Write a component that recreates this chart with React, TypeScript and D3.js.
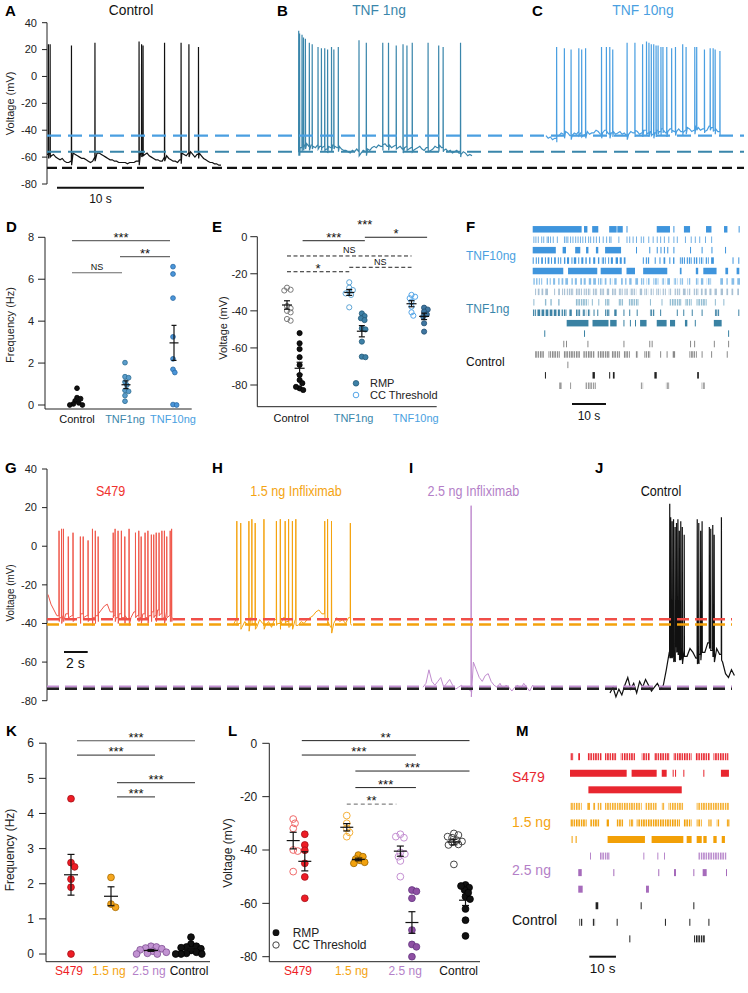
import React from "react";
import * as d3 from "d3";

const SANS = "'Liberation Sans', Arial, Helvetica, sans-serif";
const NARROW = "'Liberation Sans Narrow', 'Arial Narrow', 'Liberation Sans', Arial, sans-serif";

const C_BLACK = "#111111";
const C_TEAL = "#3a86ab";
const C_BLUE = "#4a9fe1";
const C_RED = "#ee2a2f";
const C_ORANGE = "#f4a412";
const C_PURPLE = "#b47fc8";

// ---------------- Panels A-C : traces (time s, voltage mV) ----------------
const A_TICKS = [40, 20, 0, -20, -40, -60, -80];
const A_CTRL_BASE = [-58, -57, -59, -58, -60, -61, -62, -61, -63, -64, -64, -63, -57, -58, -59, -60, -61, -61, -62, -63, -64, -63, -60, -57, -57, -58, -59, -60, -61, -62, -62, -63, -63, -64, -64, -64, -64, -65, -64, -64,
  -64, -63, -63, -57, -56, -58, -57, -59, -60, -61, -62, -62, -63, -63, -60, -59, -61, -62, -63, -63, -64, -62, -57, -58, -59, -57, -56, -58, -60, -58, -57, -59, -61, -62, -63, -64, -64, -65, -65, -66, -66];
const A_CTRL_SPIKES = [0.15, 0.35, 2.8, 5.5, 10.57, 10.86, 11.03, 13.5, 15.4, 16.3, 17.4];
const A_CTRL_PEAKS = [24, 24, 23, 25, 26, 24, 23, 25, 25, 24, 22];
const B_BASE = [-56, -53, -52, -51, -50, -52, -51, -52, -53, -51, -52, -53, -52, -54, -52, -53, -51, -52, -53, -52,
  -54, -55, -55, -56, -57, -55, -56, -54, -56, -57, -55, -56, -54, -55, -53, -52, -53, -51, -52, -51,
  -50, -52, -51, -53, -52, -51, -53, -52, -54, -53, -52, -54, -53, -55, -54, -53, -52, -54, -55, -53,
  -56, -55, -54, -52, -53, -51, -53, -55, -54, -56, -55, -57, -56, -55, -57, -58, -56, -57, -59, -58, -59];
const B_SPIKES = [0.07, 0.17, 0.45, 0.62, 0.84, 1.29, 1.62, 2.29, 2.68, 3.06, 3.39, 3.84, 4.11, 4.62, 7.0, 7.84, 9.73, 10.39, 11.28, 12.06, 12.51, 13.12, 14.94, 16.16, 16.67, 18.67];
const B_PEAKS = [34, 32, 31, 29, 28, 25, 24, 22, 21, 21, 20, 22, 20, 22, 27, 25, 25, 25, 23, 24, 23, 25, 25, 23, 22, 25];
const C_BASE = [-44, -46, -45, -47, -46, -44, -44, -42, -43, -41, -42, -44, -44, -42, -43, -41, -42, -44, -43, -41, -43, -42, -42, -40, -41, -43, -42, -40, -41, -43, -42, -41, -43, -42, -41, -43, -42, -44, -43, -41,
  -42, -40, -41, -43, -42, -40, -40, -42, -41, -43, -42, -40, -41, -39, -40, -42, -41, -39, -40, -41, -41, -39, -41, -42, -40, -38, -39, -41, -40, -37, -38, -40, -39, -41, -40, -37, -38, -40, -39, -41, -40];
const C_SPIKES = [1.21, 2.1, 2.87, 3.76, 4.09, 4.54, 6.37, 6.93, 7.32, 7.66, 9.31, 10.21, 11.09, 11.54, 11.82, 12.09, 12.37, 12.64, 12.87, 13.2, 13.43, 13.87, 14.43, 14.87, 15.7, 16.09, 17.09, 17.31, 18.2, 18.86, 19.2, 19.43, 19.98];
const C_PEAKS = [22, 21, 20, 21, 20, 21, 22, 22, 22, 20, 25, 25, 24, 26, 25, 24, 24, 23, 23, 22, 22, 22, 21, 22, 24, 22, 22, 22, 20, 21, 21, 20, 19];
const A_DASH = [-44, -56, -68];

// ---------------- Panel D ----------------
const D_CATS = ["Control", "TNF1ng", "TNF10ng"];
const D_TICKS = [0, 2, 4, 6, 8];
const D_CTRL = [0.8, 0.35, 0.3, 0.2, 0.1, 0.05, 0.0, 0.0];
const D_TNF1 = [2.02, 1.35, 1.3, 1.1, 0.95, 0.7, 0.65, 0.45, 0.18];
const D_TNF10 = [6.6, 6.25, 5.1, 3.25, 2.2, 1.7, 1.55, 0.02, 0.0];
const D_SIG = [
  { a: "Control", b: "TNF10ng", label: "***", level: 7.84 },
  { a: "TNF1ng", b: "TNF10ng", label: "**", level: 7.08 },
  { a: "Control", b: "TNF1ng", label: "NS", level: 6.31 },
];

// ---------------- Panel E ----------------
const E_TICKS = [0, -20, -40, -60, -80];
const E_THR_CTRL = [-27.5, -28.6, -29, -37.4, -38.6, -40, -40.8, -44.4, -45.3];
const E_RMP_CTRL = [-52, -57.5, -60.6, -65, -69.2, -74.6, -77.3, -79, -81.8, -82.7, -81];
const E_THR_TNF1 = [-24.6, -27.5, -28.8, -29.6, -30.6, -31.4, -38.1];
const E_RMP_TNF1 = [-41.4, -42.8, -44, -45, -49.4, -50, -56.6, -64.7, -65];
const E_THR_TNF10 = [-31.4, -32.4, -33.2, -35, -37.7, -40.8, -42.6];
const E_RMP_TNF10 = [-38.3, -39.3, -40.4, -41.9, -43.1, -46.7, -51.2];
const E_SIG = [
  { a: "Control", b: "TNF10ng", s: "rmp", label: "***", level: 4.5, line: false, dashed: false },
  { a: "Control", b: "TNF1ng", s: "rmp", label: "***", level: -2.16, line: true, dashed: false },
  { a: "TNF1ng", b: "TNF10ng", s: "rmp", label: "*", level: -0.3, line: true, dashed: false },
  { a: "Control", b: "TNF10ng", s: "thr", label: "NS", level: -10.4, line: true, dashed: true },
  { a: "TNF1ng", b: "TNF10ng", s: "thr", label: "NS", level: -16.5, line: true, dashed: true },
  { a: "Control", b: "TNF1ng", s: "thr", label: "*", level: -18.9, line: true, dashed: true },
];

// ---------------- Panel F : raster (seconds) ----------------
type Ev = number | [number, number];
const F_ROWS: Ev[][] = [
  [[0, 14.4], [15.1, 16.1], [17.5, 19.3], [22.5, 24.7], [24.9, 26.5], 27.6, [36.5, 40.4], 41.4, [44.5, 46.3], [51, 52.6], [56.3, 57.3], 60.6],
  [0.2, 0.8, 1.5, 2.5, 3.1, 4.1, 4.5, 5.1, 5.9, 7.1, 9.2, 9.7, 10.2, 11, 11.7, 12.5, 13.2, 13.9, 14.6, 15.4, 16.3, 16.9, 17.8, 18.6, 19.5, 20.6, 21.6, 22.5, 22.9, 25.2, 27.6, 28.4, 29.4, 30.4, 31.8, 32.5, 34, 35.3, 36.5, 37.5, 38.6, 39.9, 41.4, 42.4, 44.8, 46.5, 47.7, 49, 50.7, 52.5],
  [[0, 6.8], [8.8, 9.8], [12.5, 14], [15.7, 16.4], [18.6, 19.3], [21.3, 26], 30.4, 34.3, 36.5, 37.6, 38.6, 39.6, 41.4, 46.3, 49.7, 52.6, 56.6],
  [[0, 0.3], [0.9, 1.2], [1.6, 1.8], [2.5, 3.0], [3.6, 3.8], [4.4, 4.9], [5.4, 5.6], [6.3, 6.8], [7.4, 7.6], [8.1, 8.4], [9.2, 9.6], [10.1, 10.7], [11.4, 11.6], [12.1, 12.8], [13.4, 13.6], [14.3, 14.9], [15.5, 15.9], [16.6, 17.0], [17.8, 18.4], [19.2, 19.6], [20.3, 21.5], [22.2, 22.4], [23.0, 23.6], [24.4, 25.1], [25.6, 26.2], [26.8, 27.3], [32.4, 32.7], [33.2, 34.3], [35.9, 36.2], [37.3, 37.6], [38.5, 39.0], [40.2, 40.5], [41.3, 41.7], [43.3, 44.8], [45.3, 46.8], [47.3, 48.5], [49.0, 50.2], [50.8, 51.8], [52.5, 53.3], [58.8, 59.0], [60.5, 60.7]],
  [[0, 9], [10.4, 19], [20, 26.2], [27.6, 30.1], [32.5, 39.6], [43.3, 43.8], [48, 48.7], [50.2, 54.1], [56.7, 57.5], [60, 60.8]],
  [[0.2, 0.6], [1.0, 1.4], [1.8, 2.1], [2.5, 2.6], [4.1, 4.5], [5.0, 5.3], [6.0, 6.6], [7.5, 7.9], [8.5, 9.0], [9.6, 10.4], [11.4, 11.8], [12.4, 13.0], [14.0, 14.5], [15.0, 15.6], [16.5, 17.2], [17.8, 18.6], [19.2, 20.5], [21.2, 21.7], [22.5, 23.4], [24.0, 24.7], [26.0, 26.5], [27.2, 27.6], [28.4, 29.1], [30.2, 31.0], [31.8, 32.8], [33.5, 34.5], [35.5, 37.0], [38.0, 39.0], [39.6, 40.4], [41.5, 42.6], [43.3, 44.4], [45.5, 46.5], [47.8, 48.8], [49.5, 50.2], [51.2, 52.5], [55.2, 56], [57, 57.4], [58.5, 59.3], [60.2, 61]],
  [[0.7, 1.0], [1.5, 2.0], [2.6, 3.1], [3.7, 4.5], [6.3, 6.5], [7.5, 8.0], [8.6, 9.6], [10.0, 12.0], [12.5, 14.5], [15.0, 17.0], [17.5, 19.0], [19.6, 21.2], [21.8, 22.5], [23.3, 24.7], [25.3, 26.5], [27.0, 28.0], [28.6, 30.5], [31.5, 32.2], [32.8, 34.0], [34.6, 35.6], [36.3, 37.6], [38.2, 39.2], [40.0, 41.0], [41.7, 43.4], [44.2, 45.0], [45.5, 46.5], [47.3, 48.8], [49.5, 50.0], [50.6, 51.2], [52.0, 52.6], [53.5, 54.2], [55.3, 56.0], [57.0, 57.5], [58.5, 59.0], [60.2, 60.7]],
  [[0.2, 0.4], [3.6, 4.0], [5.2, 5.6], [7.5, 7.9], [12.5, 16.4], 17.4, 19.3, [21.3, 22.7], [25.2, 26.6], [28.1, 31.2], 34.5, 37.9, [40.2, 43.8], [44.8, 46.8], [48.2, 51.2], 53.6, 56.1],
  [[0, 1.0], [1.4, 2.2], [2.6, 3.4], [3.8, 4.6], [5.0, 5.8], [6.2, 7.0], [7.4, 8.0], [8.3, 10.0], [10.8, 11.5], [12.7, 14.2], [14.6, 15.5], [15.9, 16.9], 17.9, 19.0, [21.3, 22.7], [24.0, 24.7], 26.7, 28.4, 30.6, [34.5, 35.9], 37.5, 42.4, 44.3, 46.8, 49.7, [53.6, 55.1], 60.5],
  [[10, 16.4], [17.6, 22.3], [22.8, 24.7], 26.7, 28.6, 30.1, [31.6, 33.5], [36.5, 39.4], [40.4, 41.9], [44.8, 45.5], 47.7, [53.3, 55.6]],
  [3.4, 15.1, 57.5],
  [9.0, 9.8, 16.1, 26.7, 34.3, 35.0, 46.3, 47.5, 53.3, 57.5],
  [[0.7, 3.3], [4.6, 8.0], [9.0, 13.9], [14.9, 18.3], [19.0, 22.7], [23.2, 25.7], [26.7, 28.6], [30.1, 31.0], [32.8, 34.6], 37.5, 39.4, [41.2, 41.9], [46.1, 48.3], 49.7, 52.5, 57.1],
  [10.2],
  [[3.6, 3.9], [17.6, 18.3], [22.5, 22.8], [23.6, 24.1], [35.8, 36.5], [48.4, 48.9]],
  [[7.8, 8.5], 11, [15.4, 18.6], [31.6, 32.5], [39.2, 40.2], [49.7, 50.7]],
];
const F_LABELS = ["TNF10ng", "TNF1ng", "Control"];

// ---------------- Panels G-J : traces ----------------
const G_TICKS = [40, 20, 0, -20, -40, -60, -80];
const G_S479_BASE = [-25, -30, -33, -36, -37, -36, -35, -37, -36, -38, -37, -35, -37, -36, -38, -37, -36, -35, -33, -31, -30, -34, -36, -37, -35, -37, -36, -38, -37, -34, -36, -37, -35, -37, -36, -34, -36, -33, -35, -37, -34, -36, -37];
const G_S479_SPIKES = [0.92, 1.13, 1.29, 1.7, 2.1, 2.72, 2.96, 3.37, 3.74, 3.98, 4.22, 5.49, 5.65, 5.9, 6.18, 6.47, 6.83, 7.37, 7.65, 7.85, 8.18, 8.42, 8.71, 8.91, 9.12, 9.36, 9.6, 9.81, 10.01, 10.3, 10.42];
const G_S479_PEAKS = [8, 9, 9, 5, 7, 5, 5, 3, 9, 8, 5, 7, 9, 8, 8, 5, 9, 7, 8, 5, 7, 8, 6, 6, 7, 7, 8, 8, 5, 8, 9];
const H_BASE = [-41, -38, -40, -42, -39, -41, -37, -40, -42, -38, -40, -41, -39, -42, -38, -40, -41, -37, -39, -42, -40, -38, -41, -39, -40, -38, -37, -36, -34, -33, -35, -38, -39, -42, -40, -37, -39, -38, -40, -37, -41];
const H_SPIKES = [0.31, 0.64, 1.33, 1.58, 1.86, 2.6, 3.65, 3.98, 4.39, 4.68, 5.0, 5.29, 7.73, 7.97, 8.3, 9.89];
const H_PEAKS = [13, 12, 13, 14, 12, 14, 13, 14, 13, 14, 13, 14, 13, 14, 13, 12];
const I_BASE = [-73, -71, -64, -70, -72, -70, -68, -73, -71, -69, -72, -74, -73, -72, -74, -73, -75, -60, -64, -68, -70, -67, -66, -70, -72, -73, -71, -74, -72, -73, -75, -73, -72, -74, -71, -73, -75, -72, -74, -73];
const I_SPIKES = [4.05];
const I_PEAKS = [21];
const J_BASE = [-76, -73, -78, -74, -77, -72, -68, -74, -71, -76, -70, -73, -69, -72, -75, -73, -71, -74, -72, -64, -55, -57, -52, -56, -58, -54, -57, -53, -55, -58, -56, -52, -55, -50, -54, -57, -53, -56, -60, -66, -68, -64, -67];
const J_SPIKES = [5.03, 5.11, 5.23, 5.35, 5.48, 5.6, 5.72, 5.84, 5.96, 6.09, 6.25, 7.35, 7.48, 7.64, 7.76, 8.37, 8.49, 8.66, 8.78, 9.39];
const J_PEAKS = [22, 15, 13, 14, 10, 12, 14, 8, 13, 10, 6, 14, 12, 8, 13, 10, 9, 11, 6, 15];
const G_DASH = [-37.8, -40.5, -72.7, -73.8];

// ---------------- Panel K ----------------
const K_CATS = ["S479", "1.5 ng", "2.5 ng", "Control"];
const K_TICKS = [0, 1, 2, 3, 4, 5, 6];
const K_S479 = [4.42, 2.6, 2.48, 2.13, 1.9, 0.0];
const K_15 = [2.18, 1.42, 1.33];
const K_25 = [0.22, 0.2, 0.17, 0.15, 0.12, 0.08, 0.05, 0.02, 0.0, 0.0];
const K_CTRL = [0.48, 0.28, 0.22, 0.2, 0.18, 0.15, 0.1, 0.05, 0.02, 0.0, 0.0, 0.0];
const K_SIG = [
  { a: "S479", b: "Control", label: "***", level: 6.07 },
  { a: "S479", b: "2.5 ng", label: "***", level: 5.66 },
  { a: "1.5 ng", b: "Control", label: "***", level: 4.88 },
  { a: "1.5 ng", b: "2.5 ng", label: "***", level: 4.47 },
];

// ---------------- Panel L ----------------
const L_TICKS = [0, -20, -40, -60, -80];
const L_THR_S479 = [-28.4, -30, -31.9, -40, -40.4, -48.1];
const L_RMP_S479 = [-34.1, -38.1, -40.1, -45, -50.1, -58.1];
const L_THR_15 = [-27.1, -30, -31.9, -33.4, -35];
const L_RMP_15 = [-41.9, -42.5, -43.4, -43.9, -44.6, -45];
const L_THR_25 = [-34.1, -35.4, -35, -40.9, -41.5, -42.5, -44.1, -50];
const L_RMP_25 = [-55, -58.1, -70, -75.4, -76.3, -80, -55.5];
const L_THR_CTRL = [-33.8, -34.4, -35.4, -36.3, -37.1, -37.9, -38.1, -45.4, -36.8, -35];
const L_RMP_CTRL = [-53.1, -54.1, -55, -57.5, -58.4, -62.1, -66.3, -72.2, -53.5, -56];
const L_SIG = [
  { a: "S479", b: "Control", label: "**", level: 1, dashed: false },
  { a: "S479", b: "2.5 ng", label: "***", level: -4.4, dashed: false },
  { a: "1.5 ng", b: "Control", label: "***", level: -10.4, dashed: false },
  { a: "1.5 ng", b: "2.5 ng", label: "***", level: -16.6, dashed: false },
  { a: "1.5 ng", b: "2.5 ng", label: "**", level: -22.8, dashed: true },
];

// ---------------- Panel M : raster ----------------
const M_ROWS: Ev[][] = [
  [[0, 1.25], [3.1, 3.75], [6.5, 11.9], [13.1, 17.5], [19, 24.4], [26.9, 30], [31.5, 37.3], [38.8, 45.6], [46.9, 52.5], [53.8, 59.4]],
  [[0, 21.25], [23.1, 32.5], [34.4, 36.25], 38.5, 39.4, 42.5, 50, [56.6, 59.6]],
  [[6.9, 41.9]],
  [[0, 4.4], [6.5, 7.5], [8.75, 9.4], [10.25, 11.9], [13.1, 26.9], [28.1, 32.5], [34.4, 35.6], [36.9, 42.5], [47.5, 59.6]],
  [[0, 6.25], [7.5, 11.25], [13.75, 14.6], [17.25, 20], [22.25, 23.75], [25, 41.25], [42.5, 45.6], [47.5, 49.4], [51.9, 53.1], [55, 56.25], [58.75, 60]],
  [0.6, [2.1, 2.5], [14.1, 28.1], [30.6, 42.5], [43.75, 45.6], [47.5, 49.4], [50, 51.25], [53.75, 55], [56.9, 58.1]],
  [7.5, [11.25, 15], 27.5, 32.75, 35.25, [48.1, 58.75]],
  [[3.1, 4.4], 16.25, 33.1, [39, 39.75], 46.25, [49.75, 51.25], 58.5],
  [[3.1, 4.75], [28.5, 29.6]],
  [[9.6, 10.6], 26.5, 46.25],
  [[3.5, 4.75], [8.25, 9.4], 17.5, 35.6, 44.75, 51.9],
  [22.25, [46.5, 50.6]],
];
const M_LABELS = ["S479", "1.5 ng", "2.5 ng", "Control"];

// ============ helpers ============
function tracePoints(base: number[], dt: number, spikes: number[], peaks: number[]): [number, number][] {
  const pts: [number, number][] = [];
  let si = 0;
  let lastBase = base[0];
  const addSpike = (k: number) => {
    const ts = spikes[k];
    pts.push([ts, lastBase]);
    pts.push([ts + 0.012, peaks[k]]);
    pts.push([ts + 0.03, lastBase - 3]);
  };
  for (let i = 0; i < base.length; i++) {
    const t = i * dt;
    while (si < spikes.length && spikes[si] < t) {
      addSpike(si);
      si++;
    }
    pts.push([t, base[i]]);
    lastBase = base[i];
  }
  while (si < spikes.length) {
    addSpike(si);
    si++;
  }
  return pts;
}

function swarm(values: number[], cx: number, y: (v: number) => number, r: number, tight = 1.6) {
  const placed: { x: number; y: number }[] = [];
  const minD = r * tight;
  for (const v of values) {
    const py = y(v);
    let best = cx;
    for (let k = 0; k < 40; k++) {
      const off = k === 0 ? 0 : (k % 2 ? 1 : -1) * Math.ceil(k / 2) * 0.9;
      const px = cx + off;
      if (placed.every((p) => Math.hypot(p.x - px, p.y - py) >= minD)) {
        best = px;
        break;
      }
    }
    placed.push({ x: best, y: py });
  }
  return placed;
}

function meanSem(vals: number[]) {
  const m = d3.mean(vals) as number;
  const sd = d3.deviation(vals) as number;
  return { m, sem: sd / Math.sqrt(vals.length) };
}

function YAxis(p: {
  x: number; y: d3.ScaleLinear<number, number>; ticks: number[]; top: number; bottom: number;
  tl?: number; gap?: number; fs?: number; family?: string;
}) {
  const tl = p.tl ?? 6;
  const gap = p.gap ?? 4;
  return (
    <g>
      <line x1={p.x} x2={p.x} y1={p.top} y2={p.bottom} stroke="#222" strokeWidth={1} />
      {p.ticks.map((t) => (
        <g key={t}>
          <line x1={p.x - tl} x2={p.x} y1={p.y(t)} y2={p.y(t)} stroke="#222" strokeWidth={1} />
          <text x={p.x - tl - gap} y={p.y(t)} dy="0.35em" textAnchor="end" fontSize={p.fs ?? 11} fontFamily={p.family ?? SANS} fill="#222">
            {t < 0 ? "-" + Math.abs(t) : String(t)}
          </text>
        </g>
      ))}
    </g>
  );
}

function ErrBar(p: { x: number; vals: number[]; y: d3.ScaleLinear<number, number>; mw: number; cw: number }) {
  const { m, sem } = meanSem(p.vals);
  const ym = p.y(m), y1 = p.y(m + sem), y2 = p.y(m - sem);
  return (
    <g stroke="#111" strokeWidth={1.2}>
      <line x1={p.x - p.mw / 2} x2={p.x + p.mw / 2} y1={ym} y2={ym} />
      <line x1={p.x} x2={p.x} y1={y1} y2={y2} />
      <line x1={p.x - p.cw / 2} x2={p.x + p.cw / 2} y1={y1} y2={y1} />
      <line x1={p.x - p.cw / 2} x2={p.x + p.cw / 2} y1={y2} y2={y2} />
    </g>
  );
}

function Dots(p: { vals: number[]; cx: number; y: d3.ScaleLinear<number, number>; r: number; fill: string; stroke: string; sw?: number; tight?: number }) {
  const pts = swarm(p.vals, p.cx, p.y, p.r, p.tight ?? 1.6);
  return (
    <g>
      {pts.map((d, i) => (
        <circle key={i} cx={d.x} cy={d.y} r={p.r} fill={p.fill} stroke={p.stroke} strokeWidth={p.sw ?? 0.8} />
      ))}
    </g>
  );
}

function SigText(p: { x: number; y: number; label: string }) {
  const isNS = p.label === "NS";
  return (
    <text x={p.x} y={isNS ? p.y - 2.5 : p.y + 1} textAnchor="middle" fontSize={isNS ? 9 : 13} fontFamily={SANS} fill="#111">
      {p.label}
    </text>
  );
}

function Raster(p: { rows: Ev[][]; styles: { c: string; op?: number; hatch?: boolean }[]; x: d3.ScaleLinear<number, number>; y0: number; dy: number; h: number; id: string }) {
  return (
    <g>
      <defs>
        {p.styles.map((s, i) => (
          <pattern key={i} id={`${p.id}${i}`} patternUnits="userSpaceOnUse" width={2.4} height={40}>
            <rect x={0} y={0} width={1.5} height={40} fill={s.c} />
          </pattern>
        ))}
      </defs>
      {p.rows.map((row, i) => {
        const st = p.styles[i];
        const cy = p.y0 + i * p.dy;
        return (
          <g key={i} opacity={st.op ?? 1}>
            {row.map((e, j) => {
              const [a, b] = typeof e === "number" ? [e, e] : e;
              const x0 = p.x(a);
              const w = Math.max(1, p.x(b) - x0);
              const fill = st.hatch && w > 3 ? `url(#${p.id}${i})` : st.c;
              return <rect key={j} x={x0} y={cy - p.h / 2} width={w} height={p.h} fill={fill} />;
            })}
          </g>
        );
      })}
    </g>
  );
}

const Letter = (p: { x: number; y: number; t: string }) => (
  <text x={p.x} y={p.y} fontSize={15} fontWeight="bold" fontFamily={SANS} fill="#000">{p.t}</text>
);

// condensed title text (horizontal squeeze)
const NText = (p: { x: number; y: number; t: string; fill: string; fs?: number; sx?: number }) => (
  <text transform={`translate(${p.x},${p.y}) scale(${p.sx ?? 0.84},1)`} textAnchor="middle" fontSize={p.fs ?? 15} fontFamily={NARROW} fill={p.fill}>
    {p.t}
  </text>
);

export default function App() {
  // ---------- A-C ----------
  const yA = d3.scaleLinear().domain([-80, 40]).range([184, 22.7]);
  const tA = d3.scaleLinear().domain([0, 10]).range([0, 87]);
  const lineA = (off: number) =>
    d3.line<[number, number]>().x((d) => off + tA(d[0])).y((d) => yA(d[1]));
  const trA = tracePoints(A_CTRL_BASE, 0.25, A_CTRL_SPIKES, A_CTRL_PEAKS);
  const trB = tracePoints(B_BASE, 0.25, B_SPIKES, B_PEAKS);
  const trC = tracePoints(C_BASE, 0.25, C_SPIKES, C_PEAKS);
  const aDashColors = [C_BLUE, C_TEAL, C_BLACK];

  // ---------- D ----------
  const yD = d3.scaleLinear().domain([0, 8]).range([405, 237.3]);
  const xD = d3.scalePoint<string>().domain(D_CATS).range([77, 173]);
  const dSets = [
    { v: D_CTRL, fill: "#111", stroke: "#000" },
    { v: D_TNF1, fill: "#5a9ccb", stroke: "#2c6c92" },
    { v: D_TNF10, fill: "#4a95d9", stroke: "#2a69a5" },
  ];
  const dLabelColors = [C_BLACK, C_TEAL, C_BLUE];

  // ---------- E ----------
  const yE = d3.scaleLinear().domain([-80, 0]).range([385, 236.7]);
  const xE = d3.scalePoint<string>().domain(D_CATS).range([293.3, 417.8]);
  const eOff = 6.3;
  const eSets = [
    { thr: E_THR_CTRL, rmp: E_RMP_CTRL, thrC: "#7a7a7a", rmpF: "#111", rmpS: "#000" },
    { thr: E_THR_TNF1, rmp: E_RMP_TNF1, thrC: "#5fa6d6", rmpF: "#3d80a6", rmpS: "#245a78" },
    { thr: E_THR_TNF10, rmp: E_RMP_TNF10, thrC: "#55a6e8", rmpF: "#3f76a0", rmpS: "#244f72" },
  ];

  // ---------- F ----------
  const xF = d3.scaleLinear().domain([0, 61]).range([532.7, 740]);
  const fStyles = [
    { c: "#3f95dd" }, { c: "#5aa3e0", op: 0.85 }, { c: "#3f95dd" }, { c: "#3f95dd", hatch: true },
    { c: "#3f95dd" }, { c: "#86bde8", hatch: true }, { c: "#a9c1d4", hatch: true }, { c: "#90bbd1", hatch: true },
    { c: "#3f84a6", hatch: true }, { c: "#3a82a3" }, { c: "#3a82a3" }, { c: "#8a8a8a" },
    { c: "#8a8a8a", hatch: true }, { c: "#8a8a8a" }, { c: "#222" }, { c: "#999", hatch: true },
  ];

  // ---------- G-J ----------
  const yG = d3.scaleLinear().domain([-80, 40]).range([700.7, 469]);
  const tG = d3.scaleLinear().domain([0, 2]).range([0, 23.7]);
  const lineG = (off: number) =>
    d3.line<[number, number]>().x((d) => off + tG(d[0])).y((d) => yG(d[1]));
  const trG = tracePoints(G_S479_BASE, 0.25, G_S479_SPIKES, G_S479_PEAKS);
  const trH = tracePoints(H_BASE, 0.25, H_SPIKES, H_PEAKS);
  const trI = tracePoints(I_BASE, 0.25, I_SPIKES, I_PEAKS);
  const trJ = tracePoints(J_BASE, 0.25, J_SPIKES, J_PEAKS);
  const gDashColors = ["#f04e48", "#f4a20c", "#c28fd2", "#222"];

  // ---------- K ----------
  const yK = d3.scaleLinear().domain([0, 6]).range([954, 743.2]);
  const xK = d3.scalePoint<string>().domain(K_CATS).range([71, 191]);
  const kSets = [
    { v: K_S479, fill: "#ee1c25", stroke: "#a51219" },
    { v: K_15, fill: "#f5a61e", stroke: "#a86c00" },
    { v: K_25, fill: "#c293d2", stroke: "#7e4f92" },
    { v: K_CTRL, fill: "#111", stroke: "#000" },
  ];
  const kLabelColors = ["#ee1c25", C_ORANGE, C_PURPLE, C_BLACK];

  // ---------- L ----------
  const yL = d3.scaleLinear().domain([-80, 0]).range([956.7, 743.3]);
  const xL = d3.scalePoint<string>().domain(K_CATS).range([299, 459.7]);
  const lOff = 5.8;
  const lSets = [
    { thr: L_THR_S479, rmp: L_RMP_S479, thrC: "#f06a6a", rmpF: "#ee1c25", rmpS: "#a51219" },
    { thr: L_THR_15, rmp: L_RMP_15, thrC: "#f5b13a", rmpF: "#f2a20e", rmpS: "#9a6400" },
    { thr: L_THR_25, rmp: L_RMP_25, thrC: "#c48fd2", rmpF: "#8e4fa3", rmpS: "#653680" },
    { thr: L_THR_CTRL, rmp: L_RMP_CTRL, thrC: "#444", rmpF: "#111", rmpS: "#000" },
  ];

  // ---------- M ----------
  const xM = d3.scaleLinear().domain([0, 60]).range([570, 730]);
  const mStyles = [
    { c: "#e8262f", hatch: true }, { c: "#e8262f" }, { c: "#e8262f" },
    { c: "#f5ad2a", hatch: true }, { c: "#f2a007", hatch: true }, { c: "#f2a007" },
    { c: "#b887cb", hatch: true }, { c: "#a66bbb" }, { c: "#a66bbb" },
    { c: "#222", hatch: true }, { c: "#222", hatch: true }, { c: "#222", hatch: true },
  ];
  const mLabelColors = ["#e8262f", C_ORANGE, C_PURPLE, C_BLACK];
  const mLabelY = [781.5, 827, 875, 925];
  const fLabelColors = [C_BLUE, C_TEAL, C_BLACK];
  const fLabelY = [260, 313, 366];

  return (
    <svg width={748} height={993} style={{ position: "absolute", left: 0, top: 0, background: "#fff" }} fontFamily={SANS}>
      <rect x={0} y={0} width={748} height={993} fill="#fff" />

      {/* ===== A-C ===== */}
      <Letter x={5} y={16} t="A" />
      <Letter x={277} y={16} t="B" />
      <Letter x={532} y={16} t="C" />
      <NText x={131} y={15} t="Control" fill={C_BLACK} sx={0.92} />
      <NText x={379} y={15} t="TNF 1ng" fill={C_TEAL} sx={0.92} />
      <NText x={643} y={15} t="TNF 10ng" fill={C_BLUE} sx={0.92} />
      <YAxis x={47} y={yA} ticks={A_TICKS} top={yA(40)} bottom={yA(-80)} tl={5} gap={5} fs={11} />
      <text transform={`translate(14,${yA(-20)}) rotate(-90)`} textAnchor="middle" fontSize={11} fill="#222">Voltage (mV)</text>
      <path d={lineA(47)(trA) || ""} fill="none" stroke={C_BLACK} strokeWidth={1.2} />
      <path d={lineA(298)(trB) || ""} fill="none" stroke={C_TEAL} strokeWidth={1.2} />
      <path d={lineA(546)(trC) || ""} fill="none" stroke={C_BLUE} strokeWidth={1.2} />
      {A_DASH.map((v, i) => (
        <line key={i} x1={47} x2={744} y1={yA(v)} y2={yA(v)} stroke={aDashColors[i]} strokeWidth={2.2} strokeDasharray={i === 2 ? "10,5" : "14,7"} />
      ))}
      <line x1={57} x2={57 + tA(10)} y1={187.7} y2={187.7} stroke="#111" strokeWidth={2} />
      <text x={57 + tA(5)} y={203} textAnchor="middle" fontSize={12} fill="#111">10 s</text>

      {/* ===== D ===== */}
      <Letter x={6} y={232} t="D" />
      <YAxis x={45} y={yD} ticks={D_TICKS} top={yD(8)} bottom={409} tl={7} gap={4} fs={11} />
      <line x1={45} x2={191.7} y1={409} y2={409} stroke="#222" />
      <text transform={`translate(14,${325}) rotate(-90)`} textAnchor="middle" fontSize={11} fill="#222">Frequency (Hz)</text>
      {D_CATS.map((c, i) => (
        <text key={c} x={xD(c)} y={423} textAnchor="middle" fontSize={11} fill={dLabelColors[i]}>{c}</text>
      ))}
      {dSets.map((s, i) => (
        <g key={i}>
          <Dots vals={s.v} cx={xD(D_CATS[i]) as number} y={yD} r={2.4} fill={s.fill} stroke={s.stroke} tight={1.5} />
          <ErrBar x={(xD(D_CATS[i]) as number) + 1} vals={s.v} y={yD} mw={9} cw={5} />
        </g>
      ))}
      {D_SIG.map((s, i) => {
        const x1 = (xD(s.a) as number) - 5, x2 = (xD(s.b) as number) - 3;
        const y = yD(s.level);
        return (
          <g key={i}>
            <line x1={x1} x2={x2} y1={y} y2={y} stroke="#6a6a6a" strokeWidth={1.2} />
            <SigText x={(x1 + x2) / 2} y={y} label={s.label} />
          </g>
        );
      })}

      {/* ===== E ===== */}
      <Letter x={212} y={232} t="E" />
      <YAxis x={257.3} y={yE} ticks={E_TICKS} top={yE(0)} bottom={406.7} tl={7} gap={3} fs={11} />
      <line x1={257.3} x2={436.7} y1={406.7} y2={406.7} stroke="#222" />
      <text transform={`translate(227,${328}) rotate(-90)`} textAnchor="middle" fontSize={11} fill="#222">Voltage (mV)</text>
      {D_CATS.map((c, i) => (
        <text key={c} x={(xE(c) as number) - 2} y={422} textAnchor="middle" fontSize={11} fill={dLabelColors[i]}>{c}</text>
      ))}
      {eSets.map((s, i) => {
        const cx = xE(D_CATS[i]) as number;
        return (
          <g key={i}>
            <Dots vals={s.thr} cx={cx - eOff} y={yE} r={2.6} fill="none" stroke={s.thrC} sw={1} tight={1.4} />
            <Dots vals={s.rmp} cx={cx + eOff} y={yE} r={2.6} fill={s.rmpF} stroke={s.rmpS} tight={1.4} />
            <ErrBar x={cx - eOff} vals={s.thr} y={yE} mw={10} cw={6} />
            <ErrBar x={cx + eOff} vals={s.rmp} y={yE} mw={10} cw={6} />
          </g>
        );
      })}
      {E_SIG.map((s, i) => {
        const off = s.s === "rmp" ? eOff + 3 : -eOff;
        const x1 = (xE(s.a) as number) + off, x2 = (xE(s.b) as number) + off;
        const y = yE(s.level);
        return (
          <g key={i}>
            {s.line && (
              <line x1={x1} x2={x2} y1={y} y2={y} stroke="#222" strokeWidth={1} strokeDasharray={s.dashed ? "4,2.5" : undefined} />
            )}
            <SigText x={(x1 + x2) / 2} y={y} label={s.label} />
          </g>
        );
      })}
      <circle cx={356} cy={383.3} r={2.8} fill="#3d80a6" stroke="#245a78" strokeWidth={0.8} />
      <text x={370} y={387.3} fontSize={11} fill="#222">RMP</text>
      <circle cx={356} cy={395} r={2.8} fill="none" stroke="#55a6e8" strokeWidth={1} />
      <text x={370} y={399} fontSize={11} fill="#222">CC Threshold</text>

      {/* ===== F ===== */}
      <Letter x={466} y={232} t="F" />
      {F_LABELS.map((l, i) => (
        <text key={l} x={466} y={fLabelY[i]} fontSize={12} fill={fLabelColors[i]}>{l}</text>
      ))}
      <Raster rows={F_ROWS} styles={fStyles} x={xF} y0={229.3} dy={10.43} h={6.5} id="fpat" />
      <line x1={572} x2={572 + (xF(10) - xF(0))} y1={404} y2={404} stroke="#111" strokeWidth={2} />
      <text x={572 + (xF(5) - xF(0))} y={420} textAnchor="middle" fontSize={12} fill="#111">10 s</text>

      {/* ===== G-J ===== */}
      <Letter x={5} y={473} t="G" />
      <Letter x={212} y={473} t="H" />
      <Letter x={409} y={473} t="I" />
      <Letter x={595} y={473} t="J" />
      <NText x={110.6} y={496} t="S479" fill="#f0332f" />
      <NText x={296} y={496} t="1.5 ng Infliximab" fill={C_ORANGE} />
      <NText x={473.4} y={496} t="2.5 ng Infliximab" fill={C_PURPLE} />
      <NText x={661} y={496} t="Control" fill={C_BLACK} />
      <YAxis x={47} y={yG} ticks={G_TICKS} top={yG(40)} bottom={yG(-80)} tl={5} gap={5} fs={11} family={NARROW} />
      <text transform={`translate(14,${593}) rotate(-90) scale(0.9,1)`} textAnchor="middle" fontSize={11} fontFamily={NARROW} fill="#222">Voltage (mV)</text>
      <path d={lineG(48)(trG) || ""} fill="none" stroke="#f0574a" strokeWidth={1} />
      <path d={lineG(233)(trH) || ""} fill="none" stroke="#f5a30e" strokeWidth={1} />
      <path d={lineG(423)(trI) || ""} fill="none" stroke="#c08cce" strokeWidth={1} />
      <path d={lineG(610)(trJ) || ""} fill="none" stroke="#111" strokeWidth={1.2} />
      {G_DASH.map((v, i) => (
        <line key={i} x1={47} x2={732} y1={yG(v)} y2={yG(v)} stroke={gDashColors[i]} strokeWidth={2.4} strokeDasharray="12,6" />
      ))}
      <line x1={64} x2={64 + tG(2)} y1={652} y2={652} stroke="#111" strokeWidth={2} />
      <text x={66} y={668} fontSize={14} fontFamily={NARROW} fill="#111">2 s</text>

      {/* ===== K ===== */}
      <Letter x={6} y={736} t="K" />
      <YAxis x={46} y={yK} ticks={K_TICKS} top={yK(6)} bottom={961.7} tl={7} gap={5} fs={12} />
      <line x1={46} x2={210} y1={961.7} y2={961.7} stroke="#222" />
      <text transform={`translate(14,${850}) rotate(-90)`} textAnchor="middle" fontSize={12} fill="#222">Frequency (Hz)</text>
      {K_CATS.map((c, i) => (
        <text key={c} x={(xK(c) as number) - 2} y={975} textAnchor="middle" fontSize={12} fill={kLabelColors[i]}>{c}</text>
      ))}
      {kSets.map((s, i) => (
        <g key={i}>
          <Dots vals={s.v} cx={xK(K_CATS[i]) as number} y={yK} r={3.4} fill={s.fill} stroke={s.stroke} tight={1.5} />
          <ErrBar x={xK(K_CATS[i]) as number} vals={s.v} y={yK} mw={14} cw={7} />
        </g>
      ))}
      {K_SIG.map((s, i) => {
        const x1 = (xK(s.a) as number) + 6, x2 = (xK(s.b) as number) + 4;
        const y = yK(s.level);
        return (
          <g key={i}>
            <line x1={x1} x2={x2} y1={y} y2={y} stroke="#555" strokeWidth={1.2} />
            <SigText x={(x1 + x2) / 2} y={y} label={s.label} />
          </g>
        );
      })}

      {/* ===== L ===== */}
      <Letter x={228} y={736} t="L" />
      <YAxis x={269.3} y={yL} ticks={L_TICKS} top={yL(0)} bottom={961.7} tl={7} gap={5} fs={12} />
      <line x1={269.3} x2={480} y1={961.7} y2={961.7} stroke="#222" />
      <text transform={`translate(232,${853}) rotate(-90)`} textAnchor="middle" fontSize={12} fill="#222">Voltage (mV)</text>
      {K_CATS.map((c, i) => (
        <text key={c} x={(xL(c) as number) - 1} y={975} textAnchor="middle" fontSize={12} fill={kLabelColors[i]}>{c}</text>
      ))}
      {lSets.map((s, i) => {
        const cx = xL(K_CATS[i]) as number;
        return (
          <g key={i}>
            <Dots vals={s.thr} cx={cx - lOff} y={yL} r={3.4} fill="none" stroke={s.thrC} sw={1} tight={1.3} />
            <Dots vals={s.rmp} cx={cx + lOff} y={yL} r={3.4} fill={s.rmpF} stroke={s.rmpS} tight={1.3} />
            <ErrBar x={cx - lOff} vals={s.thr} y={yL} mw={13} cw={7} />
            <ErrBar x={cx + lOff} vals={s.rmp} y={yL} mw={13} cw={7} />
          </g>
        );
      })}
      {L_SIG.map((s, i) => {
        const x1 = s.dashed ? (xL(s.a) as number) - lOff : (xL(s.a) as number) + lOff - 3;
        const x2 = s.dashed ? (xL(s.b) as number) - lOff - 4 : (xL(s.b) as number) + lOff + 4;
        const y = yL(s.level);
        return (
          <g key={i}>
            <line x1={x1} x2={x2} y1={y} y2={y} stroke={s.dashed ? "#666" : "#222"} strokeWidth={1} strokeDasharray={s.dashed ? "4,3" : undefined} />
            <SigText x={(x1 + x2) / 2} y={y} label={s.label} />
          </g>
        );
      })}
      <circle cx={276} cy={932.7} r={3.4} fill="#111" />
      <text x={292.7} y={937} fontSize={12} fill="#222">RMP</text>
      <circle cx={276} cy={945} r={3.2} fill="none" stroke="#444" strokeWidth={1} />
      <text x={292.7} y={949.3} fontSize={12} fill="#222">CC Threshold</text>

      {/* ===== M ===== */}
      <Letter x={516} y={736} t="M" />
      {M_LABELS.map((l, i) => (
        <text key={l} x={512} y={mLabelY[i]} fontSize={14} fill={mLabelColors[i]}>{l}</text>
      ))}
      <Raster rows={M_ROWS} styles={mStyles} x={xM} y0={756.7} dy={16.56} h={7} id="mpat" />
      <line x1={589.3} x2={589.3 + (xM(10) - xM(0))} y1={956.7} y2={956.7} stroke="#111" strokeWidth={2} />
      <text x={589.3 + (xM(5) - xM(0))} y={973} textAnchor="middle" fontSize={13.5} fill="#111">10 s</text>
    </svg>
  );
}
